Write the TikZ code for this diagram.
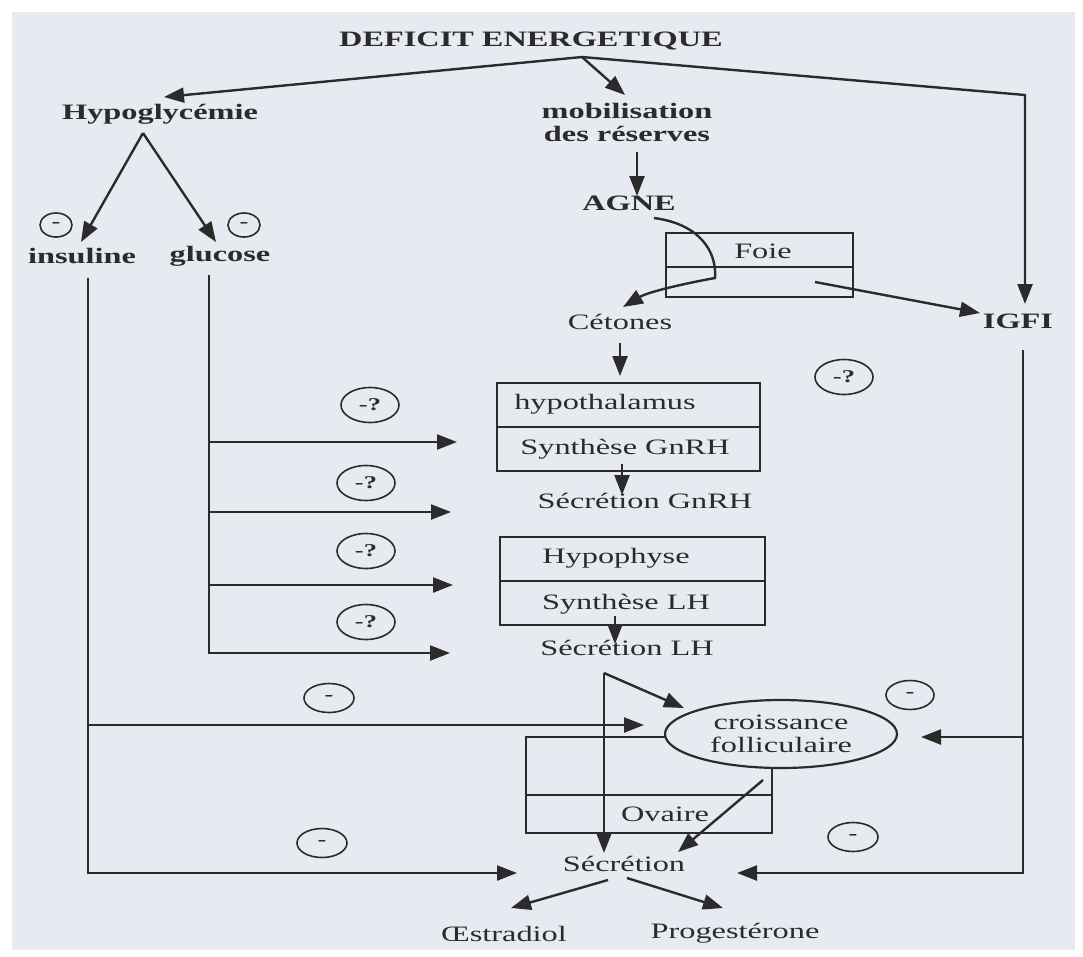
\documentclass[tikz,border=0pt]{standalone}
\usepackage{fontspec}
\setmainfont{Liberation Serif}[FakeStretch=1.47]
\usetikzlibrary{arrows.meta,shapes.geometric}
\definecolor{bg}{HTML}{E7EBF1}
\definecolor{ink}{HTML}{2B2B2B}
\begin{document}
\begin{tikzpicture}[x=1pt,y=-1pt,
  lbl/.style={inner sep=0pt, text=ink, font=\fontsize{22}{23}\selectfont},
  blbl/.style={inner sep=0pt, text=ink, font=\fontsize{22}{23}\selectfont\bfseries},
  ln/.style={draw=ink, line width=2.4pt},
  arr/.style={ln, -{Triangle[length=20pt,width=15pt]}},
  sgn/.style={ellipse, draw=ink, line width=1.6pt, inner sep=0pt, text=ink, font=\fontsize{18}{18}\selectfont\bfseries},
  box/.style={draw=ink, line width=2.4pt, inner sep=0pt},
]
\fill[white] (0,0) rectangle (1083,956);
\fill[bg] (12,12) rectangle (1075,950);
\useasboundingbox (0,0) rectangle (1083,956);

% ---- nodes
\node[blbl] (deficit) at (531,41) {DEFICIT ENERGETIQUE};
\coordinate (apex) at (582,57);
\node[blbl] (hypo) at (160,114) {Hypoglycémie};
\node[blbl, align=center] (mobil) at (627,122) {mobilisation\\des réserves};
\node[blbl] (agne) at (629,203) {AGNE};
\node[box, minimum width=187pt, minimum height=64pt] (foiebox) at (759.5,265) {};
\draw[ln] (foiebox.west |- 0,267) -- (foiebox.east |- 0,267);
\node[lbl] (foie) at (763,251) {Foie};
\node[lbl] (cet) at (620,322) {Cétones};
\node[blbl] (igf) at (1018,321) {IGFI};
\node[blbl] (ins) at (82,256) {insuline};
\node[blbl] (glu) at (220,256) {glucose};

\node[box, minimum width=263pt, minimum height=88pt] (hypbox) at (628.5,427) {};
\draw[ln] (hypbox.west) -- (hypbox.east);
\node[lbl] (hyp) at (605,404) {hypothalamus};
\node[lbl] (syng) at (625,449) {Synthèse GnRH};
\node[lbl] (secg) at (645,501) {Sécrétion GnRH};

\node[box, minimum width=265pt, minimum height=88pt] (hphbox) at (632.5,581) {};
\draw[ln] (hphbox.west) -- (hphbox.east);
\node[lbl] (hph) at (616,558) {Hypophyse};
\node[lbl] (synlh) at (626,604) {Synthèse LH};
\node[lbl] (seclh) at (627,648) {Sécrétion LH};

\node[box, minimum width=246pt, minimum height=96pt] (ovbox) at (649,785) {};
\draw[ln] (ovbox.west |- 0,795) -- (ovbox.east |- 0,795);
\node[lbl] (ov) at (665,814) {Ovaire};
\node[ellipse, draw=ink, line width=2.2pt, fill=bg, inner sep=0pt, minimum width=232pt, minimum height=68pt, align=center, text=ink, font=\fontsize{22}{23}\selectfont] (croiss) at (781,734) {croissance\\folliculaire};
\node[lbl] (secr) at (624,864) {Sécrétion};
\node[lbl] (oes) at (504,934) {Œstradiol};
\node[lbl] (prog) at (735,933) {Progestérone};

% ---- signs
\node[sgn, minimum width=32pt, minimum height=24pt] (m1) at (56,225) {-};
\node[sgn, minimum width=32pt, minimum height=24pt] (m2) at (244,225) {-};
\node[sgn, minimum width=58pt, minimum height=35pt] (q1) at (370,405) {-?};
\node[sgn, minimum width=58pt, minimum height=35pt] (q2) at (366,483) {-?};
\node[sgn, minimum width=58pt, minimum height=35pt] (q3) at (366,551) {-?};
\node[sgn, minimum width=58pt, minimum height=35pt] (q4) at (366,622) {-?};
\node[sgn, minimum width=58pt, minimum height=35pt] (q5) at (844,377) {-?};
\node[sgn, minimum width=50pt, minimum height=29pt] (m3) at (329,698) {-};
\node[sgn, minimum width=50pt, minimum height=29pt] (m4) at (322,843) {-};
\node[sgn, minimum width=48pt, minimum height=29pt] (m5) at (910,695) {-};
\node[sgn, minimum width=50pt, minimum height=29pt] (m6) at (853,837) {-};

% ---- connectors from the deficit
\coordinate (t1) at (164,97);
\coordinate (t2) at (625,95);
\coordinate (c3) at (1025,95);
\coordinate (t3) at (1025,304);
\draw[arr] (apex) -- (t1);
\draw[arr] (apex) -- (t2);
\draw[arr] (apex) -- (c3) -- (t3);

% ---- mobilisation chain
\coordinate (a0) at (637,152);
\coordinate (a1) at (637,196);
\draw[arr] (a0) -- (a1);
\coordinate (cv0) at (654,218);
\coordinate (cv1) at (715,278);
\coordinate (cv2) at (623,307);
\draw[arr] (cv0) .. controls (700,224) and (717,252) .. (cv1) .. controls (682,284) and (648,292) .. (cv2);
\coordinate (f0) at (815,282);
\coordinate (f1) at (980,313);
\draw[arr] (f0) -- (f1);
\coordinate (k0) at (620,343);
\coordinate (k1) at (620,376);
\draw[arr] (k0) -- (k1);
\coordinate (g0) at (622,464);
\coordinate (g1) at (622,495);
\draw[arr] (g0) -- (g1);
\coordinate (l0) at (615,616);
\coordinate (l1) at (615,644);
\draw[arr] (l0) -- (l1);

% ---- hypoglycemie branches
\coordinate (h0) at (143,133);
\coordinate (h1) at (81,242);
\coordinate (h2) at (216,242);
\draw[arr] (h0) -- (h1);
\draw[arr] (h0) -- (h2);

% ---- insuline
\coordinate (i0) at (88,278);
\coordinate (i1) at (88,873);
\coordinate (i2) at (517,873);
\coordinate (i3) at (88,725);
\coordinate (i4) at (644,725);
\draw[arr] (i0) -- (i1) -- (i2);
\draw[arr] (i3) -- (i4);

% ---- glucose
\coordinate (u0) at (209,275);
\coordinate (u1) at (209,653);
\coordinate (u2) at (450,653);
\draw[arr] (u0) -- (u1) -- (u2);
\coordinate (ua) at (209,442); \coordinate (uat) at (457,442);
\coordinate (ub) at (209,512); \coordinate (ubt) at (451,512);
\coordinate (uc) at (209,585); \coordinate (uct) at (453,585);
\draw[arr] (ua) -- (uat);
\draw[arr] (ub) -- (ubt);
\draw[arr] (uc) -- (uct);

% ---- LH to ovary
\coordinate (lh0) at (604,673);
\coordinate (lh1) at (604,853);
\coordinate (lh2) at (684,708);
\draw[arr] (lh0) -- (lh1);
\draw[arr] (lh0) -- (lh2);
\coordinate (e0) at (763,780);
\coordinate (e1) at (678,852);
\draw[arr] (e0) -- (e1);

% ---- IGFI
\coordinate (j0) at (1023,350);
\coordinate (j1) at (1023,873);
\coordinate (j2) at (737,873);
\coordinate (j3) at (1023,737);
\coordinate (j4) at (921,737);
\draw[arr] (j0) -- (j1) -- (j2);
\draw[arr] (j3) -- (j4);

% ---- secretion outputs
\coordinate (s0) at (608,880);
\coordinate (s1) at (511,908);
\coordinate (s2) at (627,878);
\coordinate (s3) at (723,908);
\draw[arr] (s0) -- (s1);
\draw[arr] (s2) -- (s3);
\end{tikzpicture}
\end{document}
